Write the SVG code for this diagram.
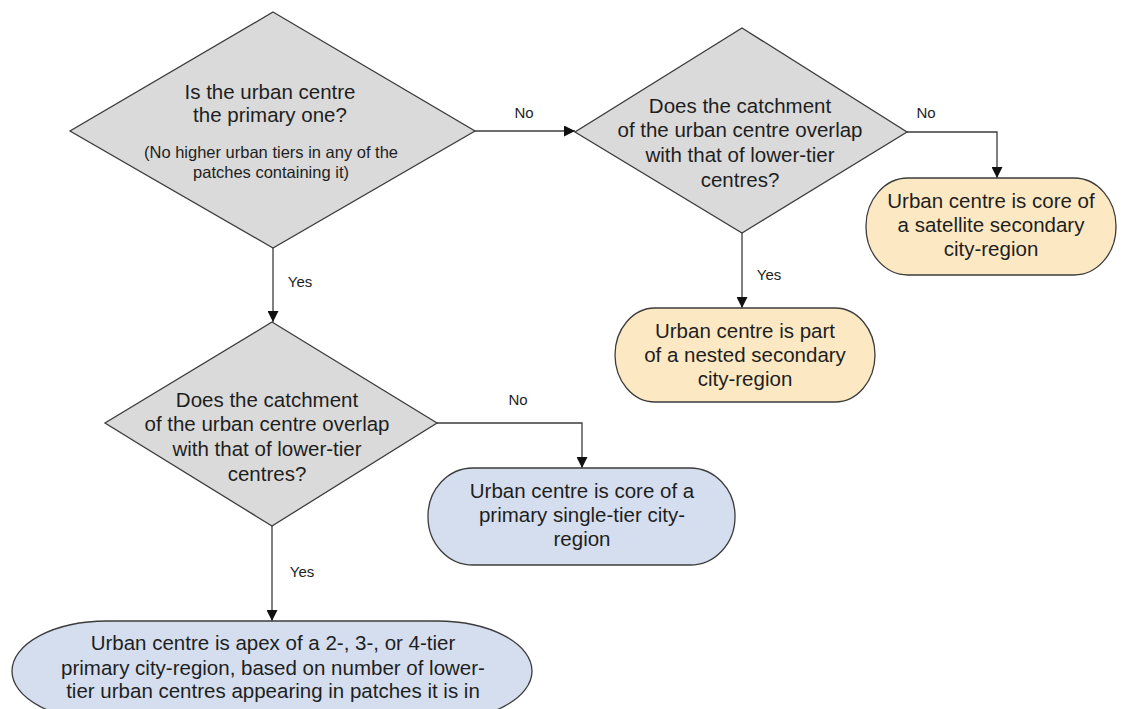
<svg xmlns="http://www.w3.org/2000/svg" width="1122" height="709" viewBox="0 0 1122 709">
  <style>
    .dec { fill: #dadada; stroke: #3c3c3c; stroke-width: 1.3; }
    .yel { fill: #fce9c4; stroke: #3c3c3c; stroke-width: 1.3; }
    .blu { fill: #d5deef; stroke: #3c3c3c; stroke-width: 1.3; }
    .t { font-family: "Liberation Sans", Arial, sans-serif; font-size: 20.5px; fill: #1e1e1e; text-anchor: middle; }
    .s { font-family: "Liberation Sans", Arial, sans-serif; font-size: 16.5px; fill: #1e1e1e; text-anchor: middle; }
    .lbl { font-family: "Liberation Sans", Arial, sans-serif; font-size: 15px; fill: #1e1e1e; text-anchor: middle; }
    .con { fill: none; stroke: #3c3c3c; stroke-width: 1.3; }
  </style>
  <defs>
    <marker id="arr" viewBox="0 0 10 10" refX="10" refY="5" markerWidth="11" markerHeight="11" markerUnits="userSpaceOnUse" orient="auto">
      <path d="M0,0 L10,5 L0,10 z" fill="#111"/>
    </marker>
  </defs>
  <rect width="1122" height="709" fill="#ffffff"/>

  <g id="connectors">
    <path class="con" d="M475,131 H575" marker-end="url(#arr)"/>
    <text class="lbl" x="524" y="118">No</text>
    <path class="con" d="M907,132 H997 V178" marker-end="url(#arr)"/>
    <text class="lbl" x="926" y="118">No</text>
    <path class="con" d="M742,233 V308" marker-end="url(#arr)"/>
    <text class="lbl" x="769" y="280">Yes</text>
    <path class="con" d="M273,248 V322" marker-end="url(#arr)"/>
    <text class="lbl" x="300" y="287">Yes</text>
    <path class="con" d="M437,423 H582 V468" marker-end="url(#arr)"/>
    <text class="lbl" x="518" y="405">No</text>
    <path class="con" d="M272,526 V621" marker-end="url(#arr)"/>
    <text class="lbl" x="302" y="577">Yes</text>
  </g>

  <g id="q-primary">
    <polygon class="dec" points="273,12 475,131 273,248 70,131"/>
    <text class="t" x="270" y="99">Is the urban centre</text>
    <text class="t" x="270" y="122">the primary one?</text>
    <text class="s" x="271" y="158">(No higher urban tiers in any of the</text>
    <text class="s" x="271" y="178">patches containing it)</text>
  </g>

  <g id="q-overlap-secondary">
    <polygon class="dec" points="742,28 907,132 742,233 575,132"/>
    <text class="t" x="740" y="113">Does the catchment</text>
    <text class="t" x="740" y="137">of the urban centre overlap</text>
    <text class="t" x="740" y="162">with that of lower-tier</text>
    <text class="t" x="740" y="187">centres?</text>
  </g>

  <g id="satellite">
    <rect class="yel" x="866" y="178" width="250" height="97" rx="42" ry="48"/>
    <text class="t" x="991" y="208">Urban centre is core of</text>
    <text class="t" x="991" y="232">a satellite secondary</text>
    <text class="t" x="991" y="256">city-region</text>
  </g>

  <g id="nested">
    <rect class="yel" x="615" y="308" width="260" height="94" rx="40" ry="47"/>
    <text class="t" x="745" y="338">Urban centre is part</text>
    <text class="t" x="745" y="362">of a nested secondary</text>
    <text class="t" x="745" y="386">city-region</text>
  </g>

  <g id="q-overlap-primary">
    <polygon class="dec" points="272,322 437,423 272,526 105,423"/>
    <text class="t" x="267" y="407">Does the catchment</text>
    <text class="t" x="267" y="431">of the urban centre overlap</text>
    <text class="t" x="267" y="456">with that of lower-tier</text>
    <text class="t" x="267" y="481">centres?</text>
  </g>

  <g id="single-tier">
    <rect class="blu" x="428" y="468" width="307" height="97" rx="45" ry="48"/>
    <text class="t" x="582" y="498">Urban centre is core of a</text>
    <text class="t" x="582" y="522">primary single-tier city-</text>
    <text class="t" x="582" y="546">region</text>
  </g>

  <g id="multi-tier">
    <rect class="blu" x="12" y="621" width="520" height="100" rx="95" ry="50"/>
    <text class="t" x="273" y="650">Urban centre is apex of a 2-, 3-, or 4-tier</text>
    <text class="t" x="273" y="675">primary city-region, based on number of lower-</text>
    <text class="t" x="273" y="698">tier urban centres appearing in patches it is in</text>
  </g>
</svg>
